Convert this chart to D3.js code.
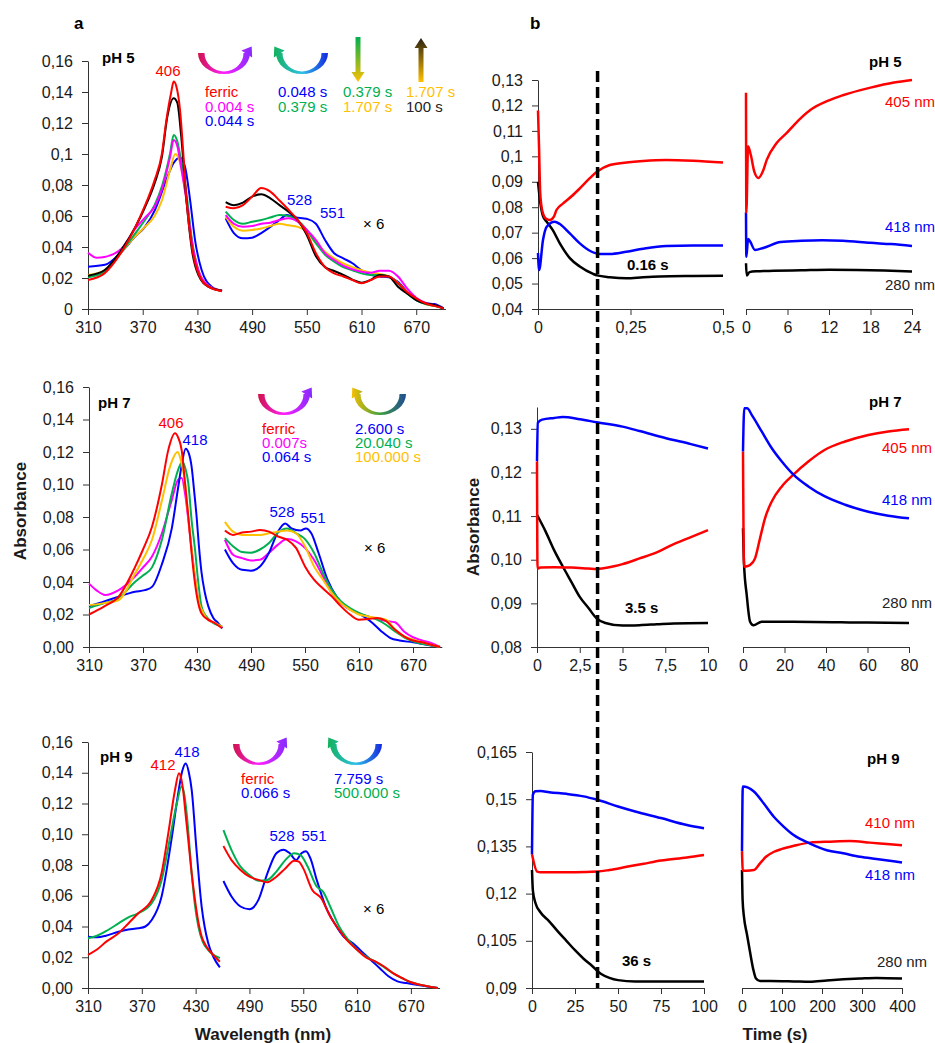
<!DOCTYPE html>
<html>
<head>
<meta charset="utf-8">
<script src="https://cdn.jsdelivr.net/npm/d3@7"></script>
<style>
body { margin: 0; background: #fff; }
svg { font-family: "Liberation Sans", Arial, sans-serif; }
.axis path, .axis line { stroke: #333; }
.axis text { font-family: "Liberation Sans", Arial, sans-serif; font-size: 16px; fill: #1a1a1a; }
</style>
</head>
<body>
<svg id="fig" width="935" height="1043"></svg>
<script>
// ---------------- tick values ----------------
var wlTicks = [310, 370, 430, 490, 550, 610, 670];
var absTicks = [0, 0.02, 0.04, 0.06, 0.08, 0.1, 0.12, 0.14, 0.16];
var k5yTicks = [0.04, 0.05, 0.06, 0.07, 0.08, 0.09, 0.1, 0.11, 0.12, 0.13];
var k5xTicksA = [0, 0.25, 0.5];
var k5xTicksB = [0, 6, 12, 18, 24];
var k7yTicks = [0.08, 0.09, 0.1, 0.11, 0.12, 0.13];
var k7xTicksA = [0, 2.5, 5, 7.5, 10];
var k7xTicksB = [0, 20, 40, 60, 80];
var k9yTicks = [0.09, 0.105, 0.12, 0.135, 0.15, 0.165];
var k9xTicksA = [0, 25, 50, 75, 100];
var k9xTicksB = [0, 100, 200, 300, 400];

// ---------------- pH 5 spectra [nm, absorbance] ----------------
var ph5SoretFerric = [[310,0.0187],[328,0.023],[347,0.037],[362,0.053],[372,0.066],[383,0.083],[391,0.100],[396,0.122],[401,0.139],[404,0.1467],[407,0.1434],[411,0.128],[414.6,0.100],[418,0.070],[424,0.040],[431,0.023],[442,0.0144],[457,0.0115]];
var ph5SoretBlack = [[310,0.0215],[328,0.025],[347,0.0385],[362,0.053],[372,0.065],[383,0.081],[391,0.098],[397,0.124],[404,0.136],[408,0.133],[412,0.113],[418,0.070],[424,0.038],[431,0.022],[442,0.0144],[457,0.0118]];
var ph5SoretGreen = [[310,0.0205],[328,0.024],[347,0.037],[362,0.049],[372.5,0.0574],[383,0.067],[391,0.079],[400,0.1004],[404,0.1123],[408,0.108],[412,0.096],[418,0.0746],[424,0.0445],[431,0.025],[442,0.0144],[457,0.0118]];
var ph5SoretMagenta = [[310,0.0363],[320,0.033],[328,0.0335],[347,0.039],[362,0.052],[372.5,0.059],[383,0.066],[391,0.077],[400,0.098],[404,0.109],[408,0.105],[412,0.0918],[418,0.070],[424,0.043],[431,0.025],[442,0.015],[457,0.0118]];
var ph5SoretYellow = [[310,0.022],[328,0.025],[347,0.037],[362,0.047],[372.5,0.053],[383,0.060],[391,0.070],[400,0.0897],[405.7,0.100],[409,0.098],[412,0.0918],[418,0.0703],[424,0.043],[431,0.025],[442,0.015],[457,0.0118]];
var ph5SoretBlue = [[310,0.0273],[328.6,0.0285],[347,0.037],[361.6,0.0467],[372.5,0.053],[383.5,0.064],[394.5,0.081],[403.7,0.094],[411,0.0978],[416.4,0.0918],[422,0.0703],[427.4,0.0445],[434.7,0.025],[445.7,0.0144],[457,0.0118]];

var ph5QFerric = [[461,0.066],[470,0.065],[480,0.067],[490,0.0725],[500,0.078],[510,0.0757],[520,0.070],[530,0.064],[540,0.0574],[550,0.049],[560,0.036],[570,0.027],[580,0.023],[590,0.021],[600,0.0187],[610,0.0166],[620,0.0187],[630,0.021],[640,0.021],[650,0.0166],[660,0.011],[670,0.0069],[680,0.0037],[690,0.002],[700,0.0004]];
var ph5QBlack = [[461,0.069],[470,0.067],[480,0.0686],[490,0.0725],[500,0.074],[510,0.0714],[520,0.067],[530,0.0628],[540,0.0574],[550,0.0477],[560,0.034],[570,0.027],[580,0.0245],[590,0.022],[600,0.019],[610,0.017],[620,0.0187],[630,0.022],[640,0.021],[650,0.0144],[660,0.010],[670,0.0058],[680,0.0037],[690,0.0026],[700,0.0004]];
var ph5QGreen = [[461,0.0628],[470,0.0574],[480,0.055],[490,0.0563],[500,0.0574],[510,0.059],[520,0.0606],[530,0.060],[540,0.057],[550,0.051],[560,0.0424],[570,0.035],[580,0.0305],[590,0.027],[600,0.025],[610,0.023],[620,0.022],[630,0.022],[640,0.021],[650,0.0166],[660,0.010],[670,0.0058],[680,0.0032],[690,0.002],[700,0.0004]];
var ph5QMagenta = [[461,0.0606],[470,0.055],[480,0.053],[490,0.0535],[500,0.055],[510,0.0557],[520,0.0574],[530,0.0585],[540,0.0563],[550,0.051],[560,0.0445],[570,0.036],[580,0.0316],[590,0.028],[600,0.0256],[610,0.024],[620,0.0234],[630,0.0247],[640,0.0247],[650,0.021],[660,0.0133],[670,0.0073],[680,0.004],[690,0.0026],[700,0.0004]];
var ph5QYellow = [[461,0.0596],[470,0.053],[480,0.0505],[490,0.051],[500,0.052],[510,0.0535],[520,0.055],[530,0.054],[540,0.053],[550,0.050],[560,0.0424],[570,0.037],[580,0.0327],[590,0.0295],[600,0.027],[610,0.025],[620,0.0234],[630,0.0226],[640,0.021],[650,0.017],[660,0.011],[670,0.0062],[680,0.0032],[690,0.002],[700,0.0004]];
var ph5QBlue = [[461,0.0585],[470,0.049],[480,0.0456],[490,0.046],[500,0.049],[510,0.053],[520,0.0574],[528,0.0606],[535,0.0596],[545,0.0585],[551,0.058],[560,0.055],[570,0.0445],[580,0.036],[590,0.0327],[600,0.0295],[610,0.025],[620,0.022],[630,0.021],[640,0.0204],[650,0.0176],[660,0.011],[670,0.0058],[680,0.0037],[690,0.0032],[700,0.0004]];

// ---------------- pH 7 spectra ----------------
var ph7SoretFerric = [[310,0.020],[327,0.025],[343,0.031],[361,0.049],[370,0.060],[380,0.074],[391,0.100],[398,0.121],[405.6,0.1315],[409,0.129],[413,0.121],[416.5,0.102],[420.4,0.080],[424,0.058],[427.8,0.039],[431,0.028],[435,0.0207],[442,0.017],[450,0.0146],[458,0.0115]];
var ph7SoretYellow = [[310,0.0258],[327,0.027],[343,0.0289],[361,0.045],[370,0.054],[380,0.066],[391,0.090],[400,0.111],[408.5,0.120],[412,0.115],[416.7,0.1006],[420,0.082],[424,0.060],[428,0.042],[431.5,0.029],[437,0.021],[442.6,0.0166],[450,0.0148],[458,0.0123]];
var ph7SoretGreen = [[310,0.024],[327,0.027],[343,0.030],[361,0.040],[370,0.044],[380,0.049],[391,0.066],[402,0.0945],[409,0.109],[413.7,0.114],[417,0.110],[420.4,0.1006],[424,0.078],[427.8,0.060],[431,0.042],[435,0.025],[440,0.019],[446,0.0156],[458,0.0127]];
var ph7SoretMagenta = [[310,0.039],[318,0.035],[328,0.032],[343,0.035],[361,0.0434],[370,0.049],[380,0.0557],[391,0.070],[402,0.0905],[409,0.103],[413,0.104],[416.7,0.0945],[420,0.080],[424,0.060],[428,0.042],[431.5,0.029],[437,0.021],[442.6,0.0166],[450,0.0148],[458,0.0123]];
var ph7SoretBlue = [[310,0.025],[327,0.028],[343,0.031],[361,0.034],[372,0.035],[380,0.037],[391,0.051],[402,0.073],[409,0.098],[413,0.112],[417.4,0.122],[421,0.119],[424,0.111],[427,0.095],[429.6,0.080],[432,0.063],[435,0.046],[438.5,0.034],[442.6,0.025],[448,0.018],[453.7,0.0146],[458,0.0115]];

var ph7QFerric = [[461,0.0717],[470,0.069],[480,0.0705],[490,0.071],[500,0.072],[510,0.071],[520,0.068],[530,0.066],[540,0.061],[550,0.0496],[560,0.0414],[570,0.036],[580,0.031],[590,0.025],[600,0.020],[610,0.0168],[620,0.0172],[630,0.0178],[640,0.016],[650,0.0107],[660,0.0066],[670,0.004],[680,0.0029],[690,0.0014],[700,0]];
var ph7QYellow = [[461,0.077],[470,0.071],[480,0.069],[490,0.069],[500,0.069],[510,0.070],[520,0.071],[530,0.0717],[540,0.070],[550,0.062],[560,0.0496],[570,0.0414],[580,0.033],[590,0.027],[600,0.023],[610,0.020],[620,0.0188],[630,0.0178],[640,0.0168],[650,0.0107],[660,0.0066],[670,0.0045],[680,0.0029],[690,0.0014],[700,0]];
var ph7QGreen = [[461,0.067],[470,0.062],[480,0.0584],[490,0.058],[500,0.060],[510,0.064],[520,0.0705],[530,0.073],[540,0.070],[550,0.0664],[560,0.058],[570,0.0455],[580,0.035],[590,0.028],[600,0.024],[610,0.021],[620,0.0188],[630,0.0168],[640,0.0137],[650,0.0096],[660,0.006],[670,0.0035],[680,0.002],[690,0.001],[700,0]];
var ph7QMagenta = [[461,0.066],[470,0.0568],[480,0.0547],[490,0.0533],[500,0.0537],[510,0.058],[520,0.063],[530,0.0664],[540,0.065],[550,0.061],[560,0.0537],[570,0.0434],[580,0.033],[590,0.027],[600,0.023],[610,0.0205],[620,0.0188],[630,0.0172],[640,0.016],[650,0.0152],[660,0.0096],[670,0.006],[680,0.004],[690,0.0025],[700,0]];
var ph7QBlue = [[461,0.060],[470,0.0516],[480,0.0475],[490,0.047],[500,0.0496],[510,0.058],[520,0.071],[528,0.076],[535,0.073],[545,0.0717],[551,0.073],[557,0.070],[565,0.058],[575,0.0414],[585,0.031],[595,0.025],[605,0.022],[615,0.0188],[625,0.0148],[635,0.0096],[645,0.0055],[655,0.004],[670,0.0029],[685,0.0014],[700,0]];

// ---------------- pH 9 spectra ----------------
var ph9SoretFerric = [[310,0.0216],[320,0.025],[330,0.030],[344,0.0356],[355,0.042],[366,0.0486],[381,0.0572],[392,0.0746],[399.5,0.1006],[407,0.1288],[411.4,0.1396],[414,0.136],[416,0.1288],[419,0.112],[421.8,0.0963],[425.5,0.075],[429.3,0.0572],[433,0.043],[436.7,0.0334],[442,0.027],[448,0.0226],[457,0.0171]];
var ph9SoretGreen = [[310,0.0323],[320,0.034],[330,0.037],[344,0.042],[355,0.046],[366,0.0486],[381,0.0551],[392,0.070],[401,0.0963],[409,0.120],[414.4,0.131],[417,0.127],[420,0.1136],[425.6,0.0746],[429,0.055],[433,0.040],[438,0.030],[444,0.0247],[457,0.0195]];
var ph9SoretBlue = [[310,0.0334],[320,0.033],[330,0.034],[344,0.0366],[355,0.038],[366,0.0388],[374,0.040],[381,0.0442],[392,0.0594],[403,0.0963],[410,0.1245],[415,0.141],[419,0.146],[422.5,0.140],[425.6,0.1288],[431,0.0898],[436.7,0.053],[440,0.040],[444,0.0293],[450,0.020],[457,0.0134]];

var ph9QFerric = [[461,0.0923],[470,0.0832],[480,0.0768],[490,0.0724],[500,0.0703],[510,0.0688],[520,0.0724],[530,0.0778],[540,0.0828],[545,0.0822],[550,0.0778],[560,0.0638],[570,0.0584],[580,0.0465],[590,0.0378],[600,0.0303],[610,0.0249],[620,0.0199],[630,0.0173],[640,0.014],[650,0.0097],[660,0.0065],[670,0.0037],[680,0.0022],[690,0.001],[700,0]];
var ph9QGreen = [[461,0.1027],[470,0.0897],[480,0.0789],[490,0.0735],[500,0.0698],[510,0.0703],[520,0.0757],[530,0.0832],[540,0.0876],[547,0.0865],[555,0.0789],[565,0.066],[572,0.0627],[580,0.053],[590,0.040],[600,0.0314],[610,0.0249],[620,0.0205],[630,0.0173],[640,0.0136],[650,0.0097],[660,0.0065],[670,0.0037],[680,0.0022],[690,0.001],[700,0]];
var ph9QBlue = [[461,0.0696],[470,0.0595],[480,0.053],[490,0.0512],[500,0.0573],[510,0.0746],[520,0.0876],[528,0.090],[535,0.0876],[542,0.0832],[548,0.0876],[553,0.089],[558,0.0843],[565,0.0703],[575,0.053],[585,0.042],[595,0.0335],[605,0.0292],[615,0.0238],[625,0.0184],[635,0.013],[645,0.0076],[655,0.0043],[665,0.0032],[680,0.0017],[700,0]];

// ---------------- kinetics [time, absorbance] ----------------
// pH 5, 0-0.5 s and 0-24 s
var k5aRed = [[0,0.118],[0.003,0.1025],[0.006,0.0855],[0.012,0.0783],[0.021,0.0756],[0.032,0.075],[0.043,0.0763],[0.05,0.0789],[0.068,0.0815],[0.09,0.0842],[0.113,0.0874],[0.14,0.0914],[0.16,0.094],[0.194,0.0966],[0.239,0.0976],[0.284,0.0982],[0.347,0.0986],[0.419,0.0983],[0.5,0.0976]];
var k5aBlue = [[0,0.062],[0.003,0.0553],[0.0135,0.0671],[0.024,0.0724],[0.045,0.0743],[0.059,0.0734],[0.086,0.0697],[0.113,0.0658],[0.14,0.0629],[0.167,0.0616],[0.194,0.0616],[0.239,0.0625],[0.284,0.0637],[0.347,0.0648],[0.419,0.065],[0.5,0.065]];
var k5aBlack = [[0,0.09],[0.006,0.082],[0.0135,0.0765],[0.025,0.074],[0.04,0.071],[0.059,0.0658],[0.086,0.060],[0.113,0.0567],[0.149,0.0538],[0.16,0.0532],[0.194,0.0525],[0.239,0.0521],[0.284,0.0525],[0.329,0.0528],[0.419,0.053],[0.5,0.0531]];
var k5bRed = [[0,0.125],[0.05,0.078],[0.3,0.104],[0.7,0.1005],[1.2,0.094],[1.8,0.0915],[2.5,0.0945],[3,0.0986],[4.4,0.1051],[6,0.1095],[7,0.1125],[9.3,0.1182],[12,0.122],[14,0.124],[18,0.127],[21.4,0.129],[24,0.130]];
var k5bBlue = [[0,0.078],[0.05,0.0605],[0.3,0.0675],[0.6,0.0665],[1.3,0.0632],[2.5,0.064],[5,0.0663],[8,0.0668],[11,0.067],[14,0.0668],[18,0.066],[21,0.0655],[24,0.0648]];
var k5bBlack = [[0,0.058],[0.1,0.0532],[0.5,0.0545],[1.5,0.0548],[4,0.055],[8,0.0552],[12,0.0554],[16,0.0553],[20,0.0551],[24,0.0547]];

// pH 7, 0-10 s and 0-80 s
var k7aBlue = [[0,0.1226],[0.05,0.1314],[0.3,0.1321],[1,0.1325],[1.5,0.1327],[2.5,0.1322],[3.5,0.1315],[5,0.1305],[6,0.1295],[7.5,0.1279],[9,0.1265],[10,0.1255]];
var k7aRed = [[0,0.1225],[0.03,0.098],[0.2,0.0982],[1,0.0983],[2,0.0982],[3,0.098],[3.5,0.0979],[4.5,0.0985],[5,0.099],[6,0.1003],[7,0.1017],[8,0.1036],[9,0.1052],[10,0.1068]];
var k7aBlack = [[0,0.1103],[0.5,0.1065],[1,0.1022],[1.5,0.0985],[2,0.095],[2.5,0.0915],[3,0.089],[3.5,0.0865],[4,0.0855],[5,0.0849],[6,0.085],[7,0.0852],[8,0.0854],[10,0.0855]];
var k7bBlue = [[0,0.1248],[0.6,0.1347],[2,0.1347],[4.2,0.1332],[9,0.1294],[13.8,0.1256],[18.7,0.1225],[24.3,0.1195],[31.5,0.1168],[39.5,0.1145],[49.2,0.1126],[60.4,0.111],[70,0.1101],[80,0.1095]];
var k7bRed = [[0,0.1248],[0.5,0.0984],[2,0.0985],[3.4,0.0988],[5.8,0.1003],[8.2,0.1049],[10.6,0.1095],[13.8,0.1133],[18.7,0.1168],[24.3,0.1195],[31.5,0.1225],[39.5,0.1252],[49.2,0.1271],[60.4,0.1286],[70,0.1294],[80,0.1299]];
var k7bBlack = [[0,0.1072],[0.5,0.099],[1.8,0.0919],[3.4,0.0858],[5,0.085],[9,0.0858],[24,0.0858],[60,0.0856],[80,0.0855]];

// pH 9, 0-100 s and 0-400 s
var k9aBlue = [[0,0.1325],[0.5,0.1514],[2,0.1525],[5,0.1526],[10,0.1522],[20,0.1517],[30,0.1509],[38,0.1498],[50,0.1477],[60,0.1461],[75,0.144],[90,0.1418],[100,0.1408]];
var k9aRed = [[0,0.1325],[3,0.127],[5,0.1268],[15,0.1268],[25,0.1268],[38,0.127],[45,0.1275],[55,0.1285],[65,0.1295],[75,0.1305],[90,0.1315],[100,0.1323]];
var k9aBlack = [[0,0.1275],[0.5,0.121],[2,0.117],[5,0.114],[10,0.1112],[15,0.108],[20,0.105],[25,0.102],[30,0.0993],[35,0.097],[40,0.0945],[45,0.0932],[50,0.0925],[60,0.0921],[75,0.0921],[100,0.0921]];
var k9bBlue = [[0,0.1335],[2,0.154],[29,0.1525],[54,0.1487],[79,0.1445],[104,0.1413],[129,0.1386],[170,0.1359],[212,0.1338],[253,0.1328],[295,0.1317],[336,0.131],[400,0.1299]];
var k9bRed = [[0,0.1335],[2,0.1273],[10,0.1273],[30,0.1275],[45,0.1296],[60,0.1317],[80,0.1333],[100,0.1342],[130,0.1352],[170,0.1362],[220,0.1365],[270,0.1367],[320,0.1362],[370,0.1357],[400,0.1354]];
var k9bBlack = [[0,0.1275],[1.5,0.118],[5,0.1125],[12,0.1073],[20,0.1015],[28,0.096],[35,0.093],[45,0.0922],[70,0.0922],[129,0.0921],[170,0.092],[212,0.0924],[295,0.093],[336,0.0932],[400,0.093]];

var RED = "#ff0000", MAG = "#ff00ff", BLUE = "#0000ff", GREEN = "#00b050", YEL = "#ffc000", BLK = "#000000";

var svg = d3.select("#fig");
var defs = svg.append("defs");

function comma(f) { return function(v) { return f(v).replace(".", ","); }; }
var trimFmt = comma(d3.format("~r"));
var fix2Fmt = comma(d3.format(".2f"));

// spectra panel: Soret segment + Q-band (x6) segment
function spectraPanel(o) {
    var x = d3.scaleLinear().domain([310, 702]).range(o.xr);
    var y = d3.scaleLinear().domain([0, 0.16]).range(o.yr);
    var g = svg.append("g");
    g.append("g").attr("class", "axis")
        .attr("transform", "translate(0," + o.yr[0] + ")")
        .call(d3.axisBottom(x).tickValues(wlTicks).tickSize(6).tickSizeOuter(0).tickPadding(7).tickFormat(d3.format("d")));
    g.append("g").attr("class", "axis")
        .attr("transform", "translate(" + o.xr[0] + ",0)")
        .call(d3.axisLeft(y).tickValues(absTicks).tickSize(6).tickSizeOuter(0).tickPadding(9).tickFormat(o.yFmt));
    var line = d3.line().x(function(d) { return x(d[0]); }).y(function(d) { return y(d[1]); }).curve(d3.curveMonotoneX);
    o.series.forEach(function(s) {
        [s[1], s[2]].forEach(function(arr) {
            g.append("path").attr("d", line(arr))
                .attr("fill", "none").attr("stroke", s[0]).attr("stroke-width", 2);
        });
    });
}

// kinetic panel: short time window (with y axis) + long time window
function kineticPanel(o) {
    var y = d3.scaleLinear().domain(o.yDom).range(o.yr);
    var xa = d3.scaleLinear().domain(o.xDomA).range(o.xrA);
    var xb = d3.scaleLinear().domain(o.xDomB).range(o.xrB);
    var g = svg.append("g");
    g.append("g").attr("class", "axis")
        .attr("transform", "translate(0," + o.yr[0] + ")")
        .call(d3.axisBottom(xa).tickValues(o.xTicksA).tickSize(6).tickSizeOuter(0).tickPadding(7).tickFormat(trimFmt));
    g.append("g").attr("class", "axis")
        .attr("transform", "translate(0," + o.yr[0] + ")")
        .call(d3.axisBottom(xb).tickValues(o.xTicksB).tickSize(6).tickSizeOuter(0).tickPadding(7).tickFormat(trimFmt));
    g.append("g").attr("class", "axis")
        .attr("transform", "translate(" + o.xrA[0] + ",0)")
        .call(d3.axisLeft(y).tickValues(o.yTicks).tickSize(6).tickSizeOuter(0).tickPadding(9).tickFormat(o.yFmt));
    o.series.forEach(function(s) {
        var la = d3.line().x(function(d) { return xa(d[0]); }).y(function(d) { return y(d[1]); }).curve(d3.curveMonotoneX);
        var lb = d3.line().x(function(d) { return xb(d[0]); }).y(function(d) { return y(d[1]); }).curve(d3.curveMonotoneX);
        g.append("path").attr("d", la(s[1])).attr("fill", "none").attr("stroke", s[0]).attr("stroke-width", 2.5);
        g.append("path").attr("d", lb(s[2])).attr("fill", "none").attr("stroke", s[0]).attr("stroke-width", 2.5);
    });
    return xa;
}

function txt(x, y, s, color, size, bold, anchor) {
    return svg.append("text").attr("x", x).attr("y", y).text(s)
        .attr("fill", color || "#000").attr("font-size", size || 15)
        .attr("font-weight", bold ? "bold" : "normal")
        .attr("text-anchor", anchor || "start");
}

var gradN = 0;
function gradient(x1, y1, x2, y2, stops) {
    var id = "gr" + (gradN++);
    var gr = defs.append("linearGradient").attr("id", id).attr("gradientUnits", "userSpaceOnUse")
        .attr("x1", x1).attr("y1", y1).attr("x2", x2).attr("y2", y2);
    stops.forEach(function(c, i) {
        gr.append("stop").attr("offset", i / (stops.length - 1)).attr("stop-color", c);
    });
    return "url(#" + id + ")";
}

// curved gradient arrow (half ellipse), dir = 1 head on right, -1 head on left
function arcArrow(cx, cy, stops, dir) {
    var rx = 26, ry = 21, w = 6.5;
    var fill = gradient(cx - rx - 4, cy, cx + rx + 4, cy, stops);
    var body = "M" + (cx - rx) + "," + cy +
        " A" + rx + "," + ry + " 0 0 0 " + (cx + rx) + "," + cy +
        " L" + (cx + rx - w) + "," + cy +
        " A" + (rx - w) + "," + (ry - 2.5) + " 0 0 1 " + (cx - rx + w) + "," + cy + " Z";
    svg.append("path").attr("d", body).attr("fill", fill);
    var ex = cx + dir * (rx - w / 2), ey = cy + 1;
    var dx = dir * 0.55, dy = -0.83, nx = -dy, ny = dx;
    var head = [[ex + dx * 9, ey + dy * 9], [ex + nx * 6.5, ey + ny * 6.5], [ex - nx * 6.5, ey - ny * 6.5]];
    svg.append("path").attr("d", "M" + head.join("L") + "Z").attr("fill", fill);
}

// straight vertical gradient arrow, tip at yTip
function vArrow(x, yTail, yTip, stops) {
    var fill = gradient(x, yTail, x, yTip, stops);
    var s = yTip > yTail ? 1 : -1;
    var yBase = yTip - s * 10;
    svg.append("path").attr("d",
        "M" + (x - 2.5) + "," + yTail + "L" + (x + 2.5) + "," + yTail + "L" + (x + 2.5) + "," + yBase +
        "L" + (x + 6.5) + "," + yBase + "L" + x + "," + yTip + "L" + (x - 6.5) + "," + yBase +
        "L" + (x - 2.5) + "," + yBase + "Z").attr("fill", fill);
}

// ---------------- panel a ----------------
spectraPanel({ xr: [88, 445.4], yr: [309, 61], yFmt: trimFmt,
    series: [[BLUE, ph5SoretBlue, ph5QBlue], [YEL, ph5SoretYellow, ph5QYellow], [GREEN, ph5SoretGreen, ph5QGreen],
             [MAG, ph5SoretMagenta, ph5QMagenta], [BLK, ph5SoretBlack, ph5QBlack], [RED, ph5SoretFerric, ph5QFerric]] });
spectraPanel({ xr: [89, 441.8], yr: [647, 387], yFmt: fix2Fmt,
    series: [[MAG, ph7SoretMagenta, ph7QMagenta], [BLUE, ph7SoretBlue, ph7QBlue], [GREEN, ph7SoretGreen, ph7QGreen],
             [YEL, ph7SoretYellow, ph7QYellow], [RED, ph7SoretFerric, ph7QFerric]] });
spectraPanel({ xr: [88, 439.6], yr: [988, 742], yFmt: fix2Fmt,
    series: [[BLUE, ph9SoretBlue, ph9QBlue], [GREEN, ph9SoretGreen, ph9QGreen], [RED, ph9SoretFerric, ph9QFerric]] });

// ---------------- panel b ----------------
var k5x = kineticPanel({ yDom: [0.04, 0.13], yr: [309, 80], yTicks: k5yTicks, yFmt: trimFmt,
    xDomA: [0, 0.5], xrA: [538, 723], xTicksA: k5xTicksA, xDomB: [0, 24], xrB: [746, 912], xTicksB: k5xTicksB,
    series: [[BLK, k5aBlack, k5bBlack], [BLUE, k5aBlue, k5bBlue], [RED, k5aRed, k5bRed]] });
kineticPanel({ yDom: [0.08, 0.135], yr: [647, 407], yTicks: k7yTicks, yFmt: fix2Fmt,
    xDomA: [0, 10], xrA: [537, 708], xTicksA: k7xTicksA, xDomB: [0, 80], xrB: [743, 909], xTicksB: k7xTicksB,
    series: [[BLK, k7aBlack, k7bBlack], [RED, k7aRed, k7bRed], [BLUE, k7aBlue, k7bBlue]] });
kineticPanel({ yDom: [0.09, 0.165], yr: [988, 752], yTicks: k9yTicks, yFmt: trimFmt,
    xDomA: [0, 100], xrA: [532, 704], xTicksA: k9xTicksA, xDomB: [0, 400], xrB: [742, 902], xTicksB: k9xTicksB,
    series: [[BLK, k9aBlack, k9bBlack], [RED, k9aRed, k9bRed], [BLUE, k9aBlue, k9bBlue]] });

// dashed marker through the three kinetic panels
svg.append("line").attr("x1", k5x(0.161)).attr("x2", k5x(0.161)).attr("y1", 71).attr("y2", 988)
    .attr("stroke", "#000").attr("stroke-width", 3.5).attr("stroke-dasharray", "11,5");

// ---------------- annotations ----------------
txt(74, 29, "a", "#000", 17, true);
txt(530, 29, "b", "#000", 17, true);

// pH 5 spectra
txt(102, 63, "pH 5", "#000", 15, true);
txt(168, 76, "406", RED, 15, false, "middle");
txt(287, 205, "528", BLUE, 15);
txt(320, 218, "551", BLUE, 15);
txt(363, 229, "× 6", "#000", 15);
arcArrow(224, 53, ["#c8102e", "#ff20ff", "#7a2cff"], 1);
arcArrow(302, 53, ["#10b050", "#30c0e8", "#1010e0"], -1);
vArrow(358, 37, 82, ["#00b050", "#ffc000"]);
vArrow(421, 82, 38, ["#ffc000", "#2a2010"]);
txt(205, 97, "ferric", RED); txt(205, 112, "0.004 s", MAG); txt(205, 126, "0.044 s", BLUE);
txt(278, 97, "0.048 s", BLUE); txt(278, 112, "0.379 s", GREEN);
txt(343, 97, "0.379 s", GREEN); txt(343, 112, "1.707 s", YEL);
txt(406, 97, "1.707 s", YEL); txt(406, 112, "100 s", "#222");

// pH 7 spectra
txt(98, 408, "pH 7", "#000", 15, true);
txt(171, 428, "406", RED, 15, false, "middle");
txt(195, 445, "418", BLUE, 15, false, "middle");
txt(282, 517, "528", BLUE, 15, false, "middle");
txt(313, 523, "551", BLUE, 15, false, "middle");
txt(364, 553, "× 6", "#000", 15);
arcArrow(284, 394, ["#c8102e", "#ff20ff", "#7a2cff"], 1);
arcArrow(380, 394, ["#ffc000", "#40a040", "#1a3fa0"], -1);
txt(262, 434, "ferric", RED); txt(262, 448, "0.007s", MAG); txt(262, 462, "0.064 s", BLUE);
txt(355, 434, "2.600 s", BLUE); txt(355, 448, "20.040 s", GREEN); txt(355, 462, "100.000 s", YEL);

// pH 9 spectra
txt(100, 762, "pH 9", "#000", 15, true);
txt(163, 770, "412", RED, 15, false, "middle");
txt(187, 757, "418", BLUE, 15, false, "middle");
txt(282, 841, "528", BLUE, 15, false, "middle");
txt(314, 841, "551", BLUE, 15, false, "middle");
txt(363, 914, "× 6", "#000", 15);
arcArrow(259, 744, ["#c8102e", "#ff20ff", "#7a2cff"], 1);
arcArrow(356, 744, ["#10b050", "#30c0e8", "#1010e0"], -1);
txt(241, 784, "ferric", RED); txt(241, 798, "0.066 s", BLUE);
txt(334, 784, "7.759 s", BLUE); txt(334, 798, "500.000 s", GREEN);

// kinetic labels
txt(869, 67, "pH 5", "#000", 15, true);
txt(885, 107, "405 nm", RED); txt(885, 232, "418 nm", BLUE); txt(885, 290, "280 nm", "#222");
txt(627, 270, "0.16 s", "#000", 15, true);
txt(869, 407, "pH 7", "#000", 15, true);
txt(882, 453, "405 nm", RED); txt(882, 505, "418 nm", BLUE); txt(882, 608, "280 nm", "#222");
txt(625, 613, "3.5 s", "#000", 15, true);
txt(867, 764, "pH 9", "#000", 15, true);
txt(865, 828, "410 nm", RED); txt(865, 880, "418 nm", BLUE); txt(877, 967, "280 nm", "#222");
txt(622, 966, "36 s", "#000", 15, true);

// axis titles
txt(0, 0, "Absorbance", "#1a1a1a", 17, true, "middle").attr("transform", "translate(26,511) rotate(-90)");
txt(0, 0, "Absorbance", "#1a1a1a", 17, true, "middle").attr("transform", "translate(479,527) rotate(-90)");
txt(263, 1040, "Wavelength (nm)", "#1a1a1a", 17, true, "middle");
txt(775, 1040, "Time (s)", "#1a1a1a", 17, true, "middle");
</script>
</body>
</html>
